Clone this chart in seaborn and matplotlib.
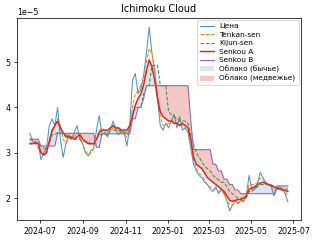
import numpy as np
import pandas as pd
import matplotlib
matplotlib.use("Agg")
import matplotlib.pyplot as plt
import matplotlib.ticker as mticker
import matplotlib.dates as mdates
import seaborn as sns

dates = pd.date_range("2024-06-16", periods=94, freq="4D")

price = [3.43,3.25,3.2,3.22,2.85,3.0,3.1,3.6,3.75,3.6,
         4.0,3.3,2.9,3.2,3.4,3.3,3.45,3.6,3.3,3.2,
         3.0,2.93,3.05,3.1,3.5,3.82,3.4,3.45,3.35,3.5,
         3.7,3.5,3.4,3.5,3.45,3.15,3.6,4.6,4.75,4.3,
         4.4,4.7,5.2,5.77,5.2,4.8,4.2,3.6,3.5,3.65,
         3.55,3.7,3.85,3.55,3.8,3.5,3.55,3.45,3.1,2.75,
         2.6,2.5,2.45,2.35,2.3,2.2,2.15,2.25,2.1,2.2,
         2.1,1.95,1.72,1.85,1.95,1.88,1.95,1.92,2.05,2.5,
         2.2,2.2,2.3,2.57,2.45,2.35,2.3,2.25,2.05,2.2,
         2.25,2.2,2.1,1.92]

tenkan = [3.3,3.25,3.2,3.1,3.0,2.95,3.05,3.3,3.45,3.6,
          3.75,3.6,3.3,3.2,3.3,3.35,3.35,3.45,3.35,3.2,
          3.05,2.95,3.0,3.1,3.3,3.5,3.55,3.5,3.45,3.5,
          3.55,3.55,3.5,3.45,3.4,3.35,3.6,4.0,4.3,4.35,
          4.5,4.6,5.0,5.3,5.2,4.8,4.3,3.8,3.6,3.6,
          3.65,3.7,3.7,3.65,3.65,3.6,3.55,3.45,3.2,2.85,
          2.65,2.55,2.5,2.4,2.3,2.25,2.2,2.2,2.15,2.15,
          2.1,1.95,1.85,1.85,1.9,1.9,1.95,1.95,2.05,2.3,
          2.3,2.3,2.35,2.45,2.4,2.35,2.3,2.25,2.2,2.2,
          2.2,2.2,2.15,2.05]

kijun = [3.3,3.3,3.25,3.2,3.15,3.1,3.1,3.2,3.4,3.4,
         3.45,3.45,3.4,3.4,3.35,3.3,3.3,3.3,3.3,3.25,
         3.25,3.25,3.2,3.2,3.3,3.4,3.4,3.4,3.4,3.5,
         3.5,3.5,3.5,3.45,3.45,3.45,3.5,3.9,4.0,4.0,
         4.0,4.3,4.45,4.5,4.93,4.93,4.93,4.48,4.48,4.48,
         3.9,3.85,3.8,3.75,3.7,3.7,3.7,3.65,3.4,3.2,
         3.0,2.9,2.8,2.7,2.65,2.6,2.5,2.45,2.4,2.35,
         2.35,2.25,2.15,2.1,2.05,2.0,2.0,2.0,2.0,2.15,
         2.15,2.2,2.25,2.3,2.3,2.3,2.3,2.3,2.25,2.25,
         2.2,2.2,2.2,2.2]

senkou_a = [3.2,3.2,3.22,3.2,3.0,2.95,3.0,3.25,3.5,3.6,
            3.7,3.55,3.45,3.35,3.35,3.35,3.3,3.35,3.4,3.3,
            3.25,3.2,3.2,3.2,3.3,3.45,3.5,3.5,3.5,3.55,
            3.6,3.55,3.55,3.5,3.5,3.5,3.6,3.8,4.05,4.2,
            4.3,4.5,4.8,5.05,4.9,4.6,4.2,3.9,3.8,3.75,
            3.7,3.7,3.65,3.65,3.6,3.65,3.6,3.55,3.3,2.9,
            2.75,2.7,2.65,2.55,2.45,2.4,2.35,2.3,2.25,2.2,
            2.15,2.05,1.95,1.93,1.95,1.97,1.97,2.0,2.05,2.2,
            2.22,2.25,2.3,2.33,2.35,2.33,2.3,2.28,2.25,2.22,
            2.2,2.18,2.17,2.15]

senkou_b = ([3.3] * 4 + [3.15] * 6 + [3.43] * 14 + [3.12] * 2 + [3.42] * 11
            + [3.75, 3.75, 4.0, 4.0, 4.2] + [4.48] * 16 + [3.7] + [3.07] * 7
            + [2.75, 2.75, 2.6, 2.6, 2.42, 2.42, 2.3, 2.3, 2.18, 2.18]
            + [2.1] * 13 + [2.27] * 5)

scale = 1e-5
df = pd.DataFrame({
    "date": dates,
    "price": np.array(price) * scale,
    "tenkan": np.array(tenkan) * scale,
    "kijun": np.array(kijun) * scale,
    "sa": np.array(senkou_a) * scale,
    "sb": np.array(senkou_b) * scale,
})

DPI = 200 / 3
fig, ax = plt.subplots(figsize=(4.8, 3.6), dpi=DPI)
sns.lineplot(data=df, x="date", y="price", ax=ax, color="#1f77b4", alpha=0.8, lw=1.1, label="Цена")
sns.lineplot(data=df, x="date", y="tenkan", ax=ax, color="#ff7f0e", ls="--", lw=1.1, label="Tenkan-sen")
sns.lineplot(data=df, x="date", y="kijun", ax=ax, color="#2ca02c", ls="--", lw=1.1, label="Kijun-sen")
sns.lineplot(data=df, x="date", y="sa", ax=ax, color="#d62728", lw=1.6, label="Senkou A")
sns.lineplot(data=df, x="date", y="sb", ax=ax, color="#9467bd", lw=1.2, label="Senkou B")

a = df["sa"].values
b = df["sb"].values
ax.fill_between(df["date"], a, b, where=a >= b, interpolate=True, color="lightsteelblue", alpha=0.45, lw=0, label="Облако (бычье)")
ax.fill_between(df["date"], a, b, where=a < b, interpolate=True, color="#d62728", alpha=0.25, lw=0, label="Облако (медвежье)")

ax.yaxis.set_major_locator(mticker.MultipleLocator(1e-5))
ax.xaxis.set_major_locator(mdates.MonthLocator(bymonth=[1, 3, 5, 7, 9, 11]))
ax.xaxis.set_major_formatter(mdates.DateFormatter("%Y-%m"))
ax.set_title("Ichimoku Cloud", fontsize=10.5)
ax.set_xlabel("")
ax.set_ylabel("")
ax.tick_params(labelsize=8.5)
ax.yaxis.get_offset_text().set_fontsize(8.5)
ax.legend(loc="upper right", fontsize=8, labelspacing=0.3, handlelength=1.8,
          borderaxespad=0.3)
fig.subplots_adjust(left=0.053, right=0.94, top=0.925, bottom=0.083)
fig.savefig("out.png", dpi=DPI)
